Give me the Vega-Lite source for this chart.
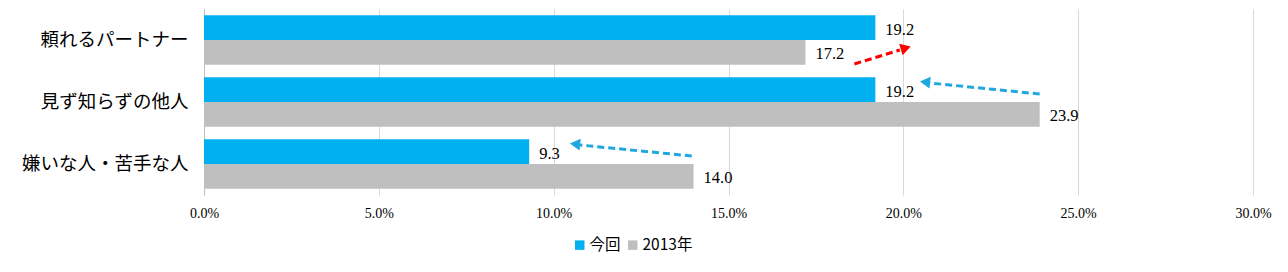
{
  "$schema": "https://vega.github.io/schema/vega-lite/v6.json",
  "width": 1049,
  "height": 186,
  "padding": {"left": 0, "top": 9, "right": 35, "bottom": 3},
  "background": "white",
  "config": {"view": {"stroke": null}},
  "datasets": {
    "bars": [
      {"category": "頼れるパートナー", "series": "今回", "value": 19.2},
      {"category": "頼れるパートナー", "series": "2013年", "value": 17.2},
      {"category": "見ず知らずの他人", "series": "今回", "value": 19.2},
      {"category": "見ず知らずの他人", "series": "2013年", "value": 23.9},
      {"category": "嫌いな人・苦手な人", "series": "今回", "value": 9.3},
      {"category": "嫌いな人・苦手な人", "series": "2013年", "value": 14.0}
    ],
    "arrows": [
      {"category": "頼れるパートナー", "dir": "up", "from": 18.6, "to": 19.9, "head": 20.07},
      {"category": "見ず知らずの他人", "dir": "down", "from": 23.9, "to": 20.76, "head": 20.62},
      {"category": "嫌いな人・苦手な人", "dir": "down", "from": 13.95, "to": 10.75, "head": 10.61}
    ]
  },
  "encoding": {
    "y": {
      "field": "category",
      "type": "nominal",
      "sort": ["頼れるパートナー", "見ず知らずの他人", "嫌いな人・苦手な人"],
      "scale": {"paddingInner": 0.2, "paddingOuter": 0.1},
      "axis": {
        "title": null,
        "ticks": false,
        "domain": true,
        "domainColor": "#BFBFBF",
        "labelFont": "Noto Sans CJK JP",
        "labelFontSize": 18.5,
        "labelColor": "#000000",
        "labelPadding": 16,
        "minExtent": 204,
        "maxExtent": 204
      }
    }
  },
  "layer": [
    {
      "data": {"name": "bars"},
      "mark": {"type": "bar"},
      "encoding": {
        "x": {
          "field": "value",
          "type": "quantitative",
          "scale": {"domain": [0, 30], "nice": false},
          "axis": {
            "title": null,
            "values": [0, 5, 10, 15, 20, 25, 30],
            "labelExpr": "format(datum.value, '.1f') + '%'",
            "labelFlush": false,
            "domain": false,
            "ticks": false,
            "grid": true,
            "gridColor": "#D9D9D9",
            "labelFont": "Liberation Serif",
            "labelFontSize": 14,
            "labelColor": "#000000",
            "labelPadding": 11
          }
        },
        "yOffset": {"field": "series", "type": "nominal", "sort": ["今回", "2013年"]},
        "color": {
          "field": "series",
          "type": "nominal",
          "sort": ["今回", "2013年"],
          "scale": {"domain": ["今回", "2013年"], "range": ["#00B0F0", "#BFBFBF"]},
          "legend": {
            "title": null,
            "orient": "none",
            "legendX": 368,
            "legendY": 228,
            "direction": "horizontal",
            "symbolType": "square",
            "symbolSize": 90,
            "symbolStrokeWidth": 0,
            "labelFont": "Noto Sans CJK JP",
            "labelFontSize": 15.5,
            "labelColor": "#000000",
            "columnPadding": 4,
            "labelOffset": 2
          }
        }
      }
    },
    {
      "data": {"name": "bars"},
      "mark": {"type": "text", "align": "left", "dx": 10, "dy": 2, "font": "Liberation Serif", "fontSize": 16.5, "color": "#000000"},
      "encoding": {
        "x": {"field": "value", "type": "quantitative"},
        "yOffset": {"field": "series", "type": "nominal", "sort": ["今回", "2013年"]},
        "text": {"field": "value", "type": "quantitative", "format": ".1f"}
      }
    },
    {
      "data": {"name": "arrows"},
      "transform": [{"filter": "datum.dir === 'up'"}],
      "mark": {"type": "rule", "color": "#FF0000", "strokeWidth": 3, "strokeDash": [7, 4], "yOffset": 24, "y2Offset": 10},
      "encoding": {
        "x": {"field": "from", "type": "quantitative"},
        "x2": {"field": "to"},
        "y2": {"field": "category"}
      }
    },
    {
      "data": {"name": "arrows"},
      "transform": [{"filter": "datum.dir === 'up'"}],
      "mark": {"type": "point", "shape": "triangle-up", "filled": true, "color": "#FF0000", "opacity": 1, "size": 140, "angle": 73, "yOffset": 8},
      "encoding": {
        "x": {"field": "head", "type": "quantitative"}
      }
    },
    {
      "data": {"name": "arrows"},
      "transform": [{"filter": "datum.dir === 'down'"}],
      "mark": {"type": "rule", "color": "#1FA8E0", "strokeWidth": 3, "strokeDash": [7, 4], "yOffset": -8, "y2Offset": -19},
      "encoding": {
        "x": {"field": "from", "type": "quantitative"},
        "x2": {"field": "to"},
        "y2": {"field": "category"}
      }
    },
    {
      "data": {"name": "arrows"},
      "transform": [{"filter": "datum.dir === 'down'"}],
      "mark": {"type": "point", "shape": "triangle-up", "filled": true, "color": "#1FA8E0", "opacity": 1, "size": 140, "angle": 276, "yOffset": -20},
      "encoding": {
        "x": {"field": "head", "type": "quantitative"}
      }
    }
  ]
}
